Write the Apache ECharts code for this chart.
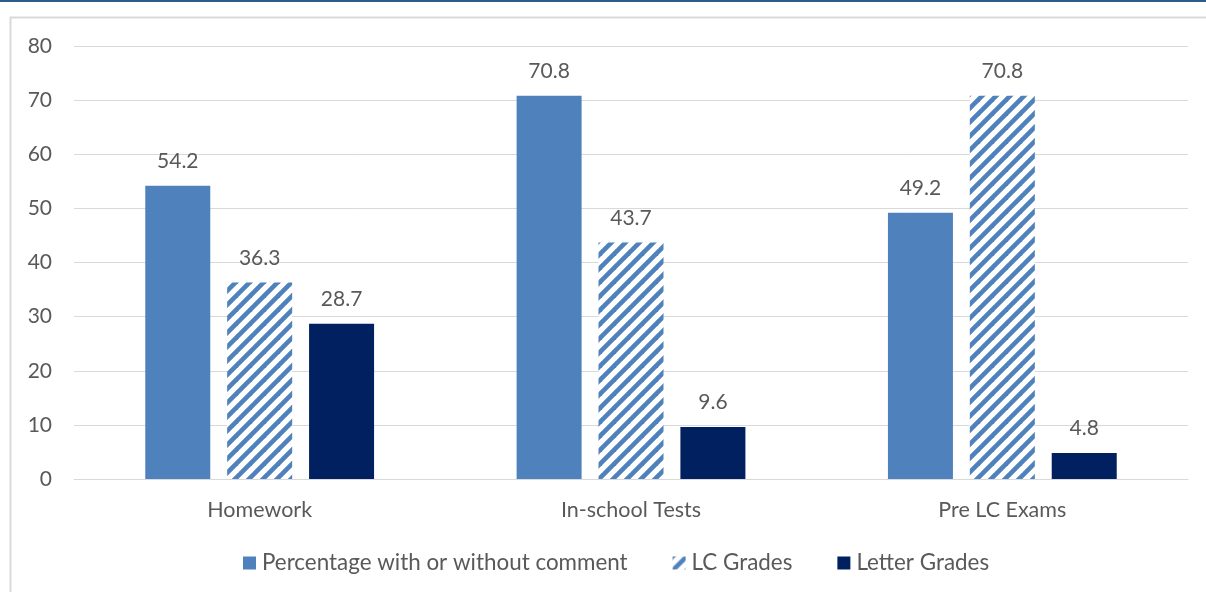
<!DOCTYPE html>
<html>
<head>
<meta charset="utf-8">
<script src="https://cdn.jsdelivr.net/npm/echarts@6/dist/echarts.min.js"></script>
<style>
html,body{margin:0;padding:0;background:#fff;}
#chart{width:1206px;height:592px;}
</style>
</head>
<body>
<div id="chart"></div>
<script>
const categories = ['Homework', 'In-school Tests', 'Pre LC Exams'];
const seriesNames = ['Percentage with or without comment', 'LC Grades', 'Letter Grades'];
const percentageValues = [54.2, 70.8, 49.2];
const lcGradeValues = [36.3, 43.7, 70.8];
const letterGradeValues = [28.7, 9.6, 4.8];
const yTicks = [0, 10, 20, 30, 40, 50, 60, 70, 80];

const BLUE = '#4F81BD';
const NAVY = '#002060';
const TEXT = '#595959';
const FONT = 'Lato, "Open Sans", sans-serif';

function makeHatch() {
  const s = 14;
  const c = document.createElement('canvas');
  c.width = s; c.height = s;
  const g = c.getContext('2d');
  g.fillStyle = '#ffffff';
  g.fillRect(0, 0, s, s);
  g.strokeStyle = BLUE;
  g.lineWidth = 4.6;
  g.lineCap = 'square';
  const lines = [[-s, s, s, -s], [0, s, s, 0], [0, 2 * s, 2 * s, 0]];
  lines.forEach(l => { g.beginPath(); g.moveTo(l[0], l[1]); g.lineTo(l[2], l[3]); g.stroke(); });
  return c;
}
const hatch = { image: makeHatch(), repeat: 'repeat' };

const chart = echarts.init(document.getElementById('chart'), null, { renderer: 'canvas' });

const labelStyle = {
  show: true, position: 'top', distance: 14,
  color: TEXT, fontFamily: FONT, fontSize: 21
};

chart.setOption({
  animation: false,
  backgroundColor: '#ffffff',
  graphic: [
    { type: 'rect', shape: { x: 0, y: 0, width: 1206, height: 2 }, style: { fill: '#2E5C8A' } },
    { type: 'rect', shape: { x: 10.5, y: 17.5, width: 1300, height: 700 }, style: { fill: 'none', stroke: '#d9d9d9', lineWidth: 2 } }
  ],
  grid: { left: 74, right: 18, top: 46, bottom: 113, containLabel: false },
  legend: {
    bottom: 13, left: 238,
    itemWidth: 13, itemHeight: 13, itemGap: 45,
    icon: 'rect',
    textStyle: { color: TEXT, fontFamily: FONT, fontSize: 22.4, padding: [0, 0, 0, 1] },
    data: seriesNames
  },
  xAxis: {
    type: 'category',
    data: categories,
    axisLine: { show: true, lineStyle: { color: '#d9d9d9', width: 1 } },
    axisTick: { show: false },
    axisLabel: { color: TEXT, fontFamily: FONT, fontSize: 21.5, margin: 20 }
  },
  yAxis: {
    type: 'value',
    min: yTicks[0], max: yTicks[yTicks.length - 1], interval: 10,
    axisLine: { show: false },
    axisTick: { show: false },
    splitLine: { lineStyle: { color: '#d9d9d9', width: 1 } },
    axisLabel: { color: TEXT, fontFamily: FONT, fontSize: 21, margin: 22 }
  },
  series: [
    { name: seriesNames[0], type: 'bar', data: percentageValues, barWidth: 65, barGap: '26%',
      itemStyle: { color: BLUE }, label: labelStyle },
    { name: seriesNames[1], type: 'bar', data: lcGradeValues, barWidth: 65, barGap: '26%',
      itemStyle: { color: hatch }, label: labelStyle },
    { name: seriesNames[2], type: 'bar', data: letterGradeValues, barWidth: 65, barGap: '26%',
      itemStyle: { color: NAVY }, label: labelStyle }
  ]
});
</script>
</body>
</html>
